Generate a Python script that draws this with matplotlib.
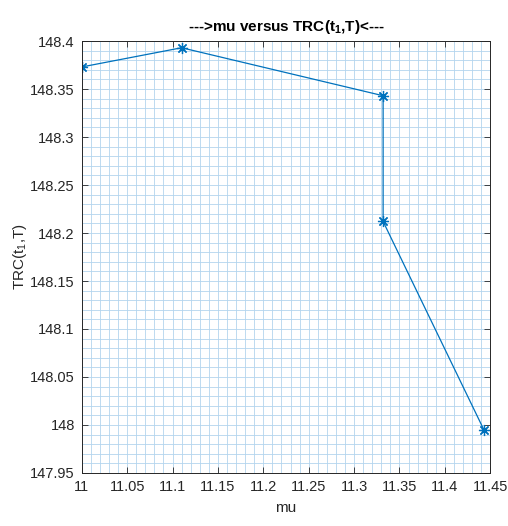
import numpy as np
import matplotlib
matplotlib.use("Agg")
import matplotlib.pyplot as plt
from matplotlib.ticker import MultipleLocator, FormatStrFormatter

# data
mu = [11.0, 11.11, 11.332, 11.332, 11.443]
trc = [148.373, 148.393, 148.343, 148.212, 147.995]

x_ticks = [11, 11.05, 11.1, 11.15, 11.2, 11.25, 11.3, 11.35, 11.4, 11.45]
y_ticks = [147.95, 148, 148.05, 148.1, 148.15, 148.2, 148.25, 148.3, 148.35, 148.4]

plt.rcParams['font.family'] = ['Liberation Sans', 'DejaVu Sans']
plt.rcParams['mathtext.fontset'] = 'custom'
plt.rcParams['mathtext.rm'] = 'Liberation Sans'
plt.rcParams['mathtext.default'] = 'regular'

fig = plt.figure(figsize=(5.08, 5.26), dpi=100)
ax = fig.add_axes([0.161, 0.1008, 0.804, 0.8212])

ax.plot(mu, trc, color='#0072BD', linewidth=0.9,
        marker=(8, 2, 0), markersize=8, markeredgewidth=0.9)

ax.set_xlim(11, 11.45)
ax.set_ylim(147.95, 148.4)
ax.set_xticks(x_ticks)
ax.set_yticks(y_ticks)
ax.xaxis.set_major_formatter(FormatStrFormatter('%g'))
ax.yaxis.set_major_formatter(FormatStrFormatter('%g'))
ax.xaxis.set_minor_locator(MultipleLocator(0.01))
ax.yaxis.set_minor_locator(MultipleLocator(0.01))

ax.grid(True, which='both', color='#b3d5ee', linewidth=0.6)
ax.set_axisbelow(True)
ax.tick_params(which='major', direction='in', top=True, right=True,
               length=4, width=0.6, labelsize=10.5, colors='#262626', pad=5)
ax.tick_params(which='minor', direction='in', top=False, right=False,
               length=0)
for s in ax.spines.values():
    s.set_color('#262626')
    s.set_linewidth(0.7)

ax.set_xlabel('mu', fontsize=11, color='#262626', labelpad=5)
ax.set_ylabel('TRC(t$_1$,T)', fontsize=11, color='#262626', labelpad=1)
ax.set_title('--->mu versus TRC(t$_1$,T)<---', fontsize=11,
             fontweight='bold', pad=7)

plt.savefig('out.png', dpi=100)
